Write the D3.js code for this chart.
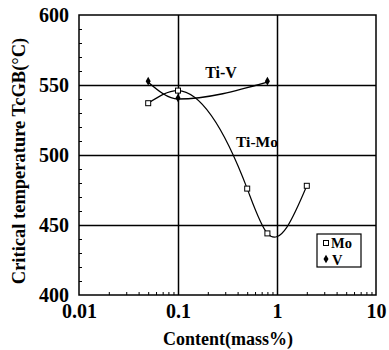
<!DOCTYPE html>
<html><head><meta charset="utf-8">
<script src="https://cdn.jsdelivr.net/npm/d3@7"></script>
<style>
html,body{margin:0;padding:0;background:#fff;}
svg{display:block;}
svg text{font-family:"Liberation Serif","Times New Roman",serif !important;font-weight:bold;fill:#000;}
</style></head>
<body>
<svg id="c" width="389" height="350"></svg>
<script>
const moContent = [0.05, 0.1, 0.5, 0.8, 2];
const moTemp = [537, 546, 476, 444, 478];
const vContent = [0.05, 0.1, 0.8];
const vTemp = [552, 540, 552];
const xTicks = [0.01, 0.1, 1, 10];
const xTickLabels = ["0.01", "0.1", "1", "10"];
const yTicks = [400, 450, 500, 550, 600];
const seriesNames = ["Mo", "V"];

const FONT = "'Liberation Serif','Times New Roman',serif";

// natural cubic spline y(x) curve factory
function NaturalX(context) { this._context = context; }
NaturalX.prototype = {
  areaStart() { this._line = 0; }, areaEnd() { this._line = NaN; },
  lineStart() { this._x = []; this._y = []; },
  point(x, y) { this._x.push(+x); this._y.push(+y); },
  lineEnd() {
    const xs = this._x, ys = this._y, n = xs.length, c = this._context;
    if (!n) return;
    c.moveTo(xs[0], ys[0]);
    if (n === 2) { c.lineTo(xs[1], ys[1]); return; }
    const h = [], s = [];
    for (let i = 0; i < n - 1; i++) { h[i] = xs[i + 1] - xs[i]; s[i] = (ys[i + 1] - ys[i]) / h[i]; }
    const m = n - 2, a = [], b = [], cc = [], d = [];
    for (let k = 0; k < m; k++) {
      const i = k + 1;
      a[k] = h[i - 1]; b[k] = 2 * (h[i - 1] + h[i]); cc[k] = h[i]; d[k] = 6 * (s[i] - s[i - 1]);
    }
    for (let k = 1; k < m; k++) {
      const w = a[k] / b[k - 1];
      b[k] -= w * cc[k - 1]; d[k] -= w * d[k - 1];
    }
    const sol = new Array(m);
    sol[m - 1] = d[m - 1] / b[m - 1];
    for (let k = m - 2; k >= 0; k--) sol[k] = (d[k] - cc[k] * sol[k + 1]) / b[k];
    const M = [0, ...sol, 0];
    for (let i = 0; i < n - 1; i++) {
      const s0 = s[i] - h[i] * (2 * M[i] + M[i + 1]) / 6;
      const s1 = s[i] + h[i] * (M[i] + 2 * M[i + 1]) / 6;
      c.bezierCurveTo(xs[i] + h[i] / 3, ys[i] + s0 * h[i] / 3,
                      xs[i + 1] - h[i] / 3, ys[i + 1] - s1 * h[i] / 3, xs[i + 1], ys[i + 1]);
    }
  }
};
const curveNaturalX = ctx => new NaturalX(ctx);

const svg = d3.select("#c");
const L = 79, R = 376, T = 15, B = 295;
const x = d3.scaleLog().domain([0.01, 10]).range([L, R]);
const y = d3.scaleLinear().domain([400, 600]).range([B, T]);

// minor ticks
const xMinor = [];
[0.01, 0.1, 1].forEach(d => { for (let k = 2; k <= 9; k++) xMinor.push(d * k); });
const yMinor = d3.range(410, 600, 10).filter(v => v % 50 !== 0);

svg.append("g").attr("transform", `translate(0,${B})`)
  .call(d3.axisBottom(x).tickValues(xMinor).tickSize(-3).tickFormat(""))
  .call(g => g.select(".domain").remove())
  .selectAll("line").attr("stroke", "#000").attr("stroke-width", 1);
svg.append("g").attr("transform", `translate(${L},0)`)
  .call(d3.axisLeft(y).tickValues(yMinor).tickSize(-3).tickFormat(""))
  .call(g => g.select(".domain").remove())
  .selectAll("line").attr("stroke", "#000").attr("stroke-width", 1);

// gridlines
svg.append("g").attr("transform", `translate(${L},0)`)
  .call(d3.axisLeft(y).tickValues([450, 500, 550]).tickSize(-(R - L)).tickFormat(""))
  .call(g => g.select(".domain").remove())
  .selectAll("line").attr("stroke", "#000").attr("stroke-width", 1.5);
svg.append("g").attr("transform", `translate(0,${B})`)
  .call(d3.axisBottom(x).tickValues([0.1, 1]).tickSize(-(B - T)).tickFormat(""))
  .call(g => g.select(".domain").remove())
  .selectAll("line").attr("stroke", "#000").attr("stroke-width", 1.5);

// frame
svg.append("rect").attr("x", L).attr("y", T).attr("width", R - L).attr("height", B - T)
  .attr("fill", "none").attr("stroke", "#000").attr("stroke-width", 1.5);

// tick labels
const yl = svg.append("g").attr("transform", `translate(${L - 10},0)`)
  .call(d3.axisLeft(y).tickValues(yTicks).tickSize(0).tickPadding(0));
yl.attr("font-family", FONT);
yl.select(".domain").remove();
yl.selectAll("text").attr("font-family", FONT).style("font-size", "20px").attr("fill", "#000").attr("dy", "0.34em");

const xl = svg.append("g").attr("transform", `translate(0,${B})`)
  .call(d3.axisBottom(x).tickValues(xTicks).tickSize(0).tickPadding(9).tickFormat((d, i) => xTickLabels[i]));
xl.attr("font-family", FONT);
xl.select(".domain").remove();
xl.selectAll("text").attr("font-family", FONT).style("font-size", "20px").attr("fill", "#000");

// axis titles
svg.append("text").attr("x", 228).attr("y", 345).attr("text-anchor", "middle").attr("font-family", FONT)
  .style("font-size", "18px").text("Content(mass%)");
svg.append("text").attr("transform", "translate(25,161) rotate(-90)").attr("text-anchor", "middle").attr("font-family", FONT)
  .style("font-size", "18.5px").text("Critical temperature TcGB(°C)");

// curves
const moPts = moContent.map((c, i) => [x(c), y(moTemp[i])]);
const vPts = vContent.map((c, i) => [x(c), y(vTemp[i])]);
svg.append("path").attr("d", d3.line().curve(curveNaturalX)(moPts))
  .attr("fill", "none").attr("stroke", "#000").attr("stroke-width", 1.2);
svg.append("path").attr("d", d3.line().curve(d3.curveMonotoneX)(vPts))
  .attr("fill", "none").attr("stroke", "#000").attr("stroke-width", 1.4);

// markers
svg.selectAll(".mo").data(moPts).join("rect")
  .attr("x", d => d[0] - 2.5).attr("y", d => d[1] - 2.5).attr("width", 5).attr("height", 5)
  .attr("fill", "#fff").attr("stroke", "#000").attr("stroke-width", 1);
const diamond = d3.symbol().type(d3.symbolDiamond).size(22);
svg.selectAll(".v").data(vPts).join("path")
  .attr("transform", d => `translate(${d[0]},${d[1] - 1})`).attr("d", diamond).attr("fill", "#000");

// series labels
svg.append("text").attr("x", 221).attr("y", 78).attr("text-anchor", "middle").attr("font-family", FONT).style("font-size", "16px").text("Ti-V");
svg.append("text").attr("x", 257).attr("y", 147).attr("text-anchor", "middle").attr("font-family", FONT).style("font-size", "15.5px").text("Ti-Mo");

// legend
const lg = svg.append("g");
lg.append("rect").attr("x", 317).attr("y", 234).attr("width", 44).attr("height", 33)
  .attr("fill", "#fff").attr("stroke", "#000").attr("stroke-width", 1.2);
lg.append("rect").attr("x", 323.5).attr("y", 240.5).attr("width", 5).attr("height", 5)
  .attr("fill", "#fff").attr("stroke", "#000").attr("stroke-width", 1);
lg.append("path").attr("transform", "translate(326,259)").attr("d", diamond).attr("fill", "#000");
lg.append("text").attr("x", 331).attr("y", 248).attr("font-family", FONT).style("font-size", "14.5px").text(seriesNames[0]);
lg.append("text").attr("x", 332).attr("y", 264.5).attr("font-family", FONT).style("font-size", "14.5px").text(seriesNames[1]);
</script>
</body></html>
